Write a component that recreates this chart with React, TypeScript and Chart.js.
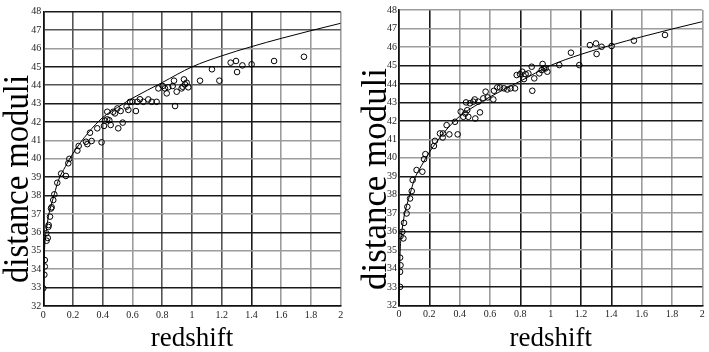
import React, { useEffect, useRef } from "react";
import { Chart, registerables } from "chart.js";

Chart.register(...registerables);

// Model curve
const modelZ = [0, 0.003, 0.007, 0.012, 0.02, 0.035, 0.05, 0.075, 0.1, 0.15, 0.2, 0.3, 0.4, 0.5, 0.6, 0.8, 1.0, 1.2, 1.4, 1.6, 1.8, 2.0];
const modelMu = [32, 33.5, 34.8, 35.6, 36.1, 36.9, 37.4, 38.1, 38.8, 39.6, 40.3, 41.4, 42.25, 42.8, 43.3, 44.15, 45.0, 45.6, 46.1, 46.55, 46.97, 47.37];

// Left panel observations
const leftZ = [0, 0.007, 0.01, 0.01, 0.022, 0.03, 0.02, 0.034, 0.036, 0.045, 0.052, 0.056, 0.067, 0.074, 0.094, 0.12, 0.152, 0.168, 0.175, 0.229, 0.238, 0.287, 0.296, 0.325, 0.314, 0.363, 0.392, 0.408, 0.415, 0.43, 0.444, 0.453, 0.43, 0.47, 0.482, 0.498, 0.504, 0.52, 0.534, 0.56, 0.572, 0.583, 0.6, 0.623, 0.632, 0.65, 0.673, 0.706, 0.729, 0.762, 0.774, 0.803, 0.818, 0.83, 0.84, 0.87, 0.879, 0.886, 0.897, 0.93, 0.937, 0.946, 0.953, 0.964, 0.975, 1.054, 1.134, 1.184, 1.26, 1.296, 1.303, 1.339, 1.401, 1.552, 1.753];
const leftMu = [32.96, 33.7, 34.15, 34.5, 35.55, 35.7, 35.95, 36.3, 36.4, 36.86, 37.3, 37.37, 37.76, 38.07, 38.7, 39.2, 39.07, 39.76, 40.0, 40.45, 40.7, 40.93, 40.8, 40.97, 41.42, 41.66, 40.9, 41.79, 42.08, 42.15, 42.1, 41.84, 42.56, 42.56, 42.47, 42.74, 41.66, 42.6, 41.97, 42.84, 42.66, 43.1, 43.1, 42.6, 43.1, 43.24, 43.1, 43.23, 43.1, 43.1, 43.83, 43.96, 43.83, 43.56, 43.89, 43.96, 44.25, 42.87, 43.65, 43.83, 43.92, 44.32, 44.05, 44.14, 43.89, 44.25, 44.87, 44.25, 45.23, 45.32, 44.72, 45.08, 45.14, 45.32, 45.55];

// Right panel observations
const rightZ = [0.007, 0.007, 0.01, 0.007, 0.01, 0.029, 0.022, 0.033, 0.05, 0.055, 0.073, 0.084, 0.09, 0.116, 0.154, 0.165, 0.174, 0.23, 0.237, 0.27, 0.288, 0.29, 0.314, 0.332, 0.369, 0.387, 0.407, 0.424, 0.437, 0.442, 0.45, 0.457, 0.468, 0.49, 0.499, 0.503, 0.523, 0.534, 0.556, 0.571, 0.585, 0.622, 0.626, 0.648, 0.666, 0.692, 0.714, 0.736, 0.765, 0.776, 0.798, 0.813, 0.824, 0.835, 0.853, 0.875, 0.879, 0.892, 0.925, 0.941, 0.947, 0.956, 0.967, 0.978, 1.057, 1.134, 1.189, 1.259, 1.299, 1.303, 1.336, 1.402, 1.549, 1.754];
const rightMu = [33.02, 33.83, 34.19, 34.6, 35.76, 35.64, 36.0, 36.48, 36.99, 37.35, 37.8, 38.2, 38.8, 39.34, 39.25, 39.93, 40.2, 40.64, 40.92, 41.32, 41.1, 41.32, 41.77, 41.27, 41.95, 41.27, 42.5, 42.22, 42.4, 43.0, 42.58, 42.22, 42.95, 43.04, 43.16, 42.13, 43.04, 42.46, 43.22, 43.58, 43.27, 43.16, 43.63, 43.81, 43.81, 43.76, 43.7, 43.76, 43.76, 44.48, 44.53, 44.66, 44.26, 44.53, 44.57, 44.93, 43.63, 44.3, 44.57, 44.75, 45.08, 44.84, 44.84, 44.66, 45.02, 45.69, 45.02, 46.1, 46.19, 45.62, 46.01, 46.05, 46.34, 46.65];

const xTitle = "redshift";
const yTitle = "distance moduli";

// Grid line shades (style only)
const SHADE: Record<string, string> = { d: "#1a1a1a", m: "#555555", l: "#9c9c9c" };
const leftYShade = "ddlldldd lldd mdlmd".replace(/ /g, "").split("");
const rightYShade = "ddlldldd lldd ddlll".replace(/ /g, "").split("");
const leftXShade = "dmmlmmmdlll".split("");
const rightXShade = "ddlldlddlll".split("");

const FONT = '"Liberation Serif", "DejaVu Serif", serif';

const yTitlePlugin = {
  id: "yTitleDraw",
  afterDraw(chart: any, _args: any, opts: any) {
    const ctx = chart.ctx;
    ctx.save();
    ctx.translate(opts.x, opts.y);
    ctx.rotate(-Math.PI / 2);
    ctx.font = `${opts.size}px ${FONT}`;
    ctx.fillStyle = "#000";
    ctx.textAlign = "center";
    ctx.textBaseline = "alphabetic";
    ctx.fillText(opts.text, 0, 0, opts.maxWidth);
    ctx.restore();
  },
};

type PanelProps = {
  z: number[];
  mu: number[];
  left: number;
  width: number;
  pad: { left: number; top: number; right: number; bottom: number };
  yW: number;
  xH: number;
  yShade: string[];
  xShade: string[];
  title: { x: number; y: number; size: number; maxWidth: number };
};

function Panel(p: PanelProps) {
  const ref = useRef<HTMLCanvasElement>(null);
  useEffect(() => {
    const fmt = (v: any) => String(Math.round(Number(v) * 10) / 10);
    const chart = new Chart(ref.current as HTMLCanvasElement, {
      type: "scatter",
      data: {
        datasets: [
          {
            data: p.z.map((z, i) => ({ x: z, y: p.mu[i] })),
            showLine: false,
            pointStyle: "circle",
            pointRadius: 2.8,
            pointBorderWidth: 1,
            pointBorderColor: "#000",
            pointBackgroundColor: "rgba(0,0,0,0)",
            borderColor: "#000",
            backgroundColor: "rgba(0,0,0,0)",
          },
          {
            data: modelZ.map((z, i) => ({ x: z, y: modelMu[i] })),
            showLine: true,
            pointRadius: 0,
            borderColor: "#000",
            borderWidth: 1,
            cubicInterpolationMode: "monotone",
          } as any,
        ],
      },
      options: {
        animation: false,
        responsive: false,
        devicePixelRatio: 1,
        layout: { padding: p.pad },
        plugins: {
          legend: { display: false },
          tooltip: { enabled: false },
          yTitleDraw: { text: yTitle, ...p.title },
        } as any,
        scales: {
          x: {
            type: "linear",
            min: 0,
            max: 2,
            afterFit: (s: any) => {
              s.height = p.xH;
            },
            ticks: {
              stepSize: 0.2,
              autoSkip: false,
              maxRotation: 0,
              padding: 3,
              color: "#222",
              font: { family: FONT, size: 10 },
              callback: fmt,
            },
            grid: {
              drawTicks: false,
              lineWidth: 1.6,
              color: (c: any) => SHADE[p.xShade[c.index]] || SHADE.l,
            },
            border: { color: "#111", width: 1.6 },
            title: {
              display: true,
              text: xTitle,
              color: "#000",
              font: { family: FONT, size: 27, lineHeight: 1 },
              padding: { top: 0, bottom: 0 },
            },
          },
          y: {
            type: "linear",
            min: 32,
            max: 48,
            afterFit: (s: any) => {
              s.width = p.yW;
            },
            ticks: {
              stepSize: 1,
              padding: 2,
              color: "#222",
              font: { family: FONT, size: 10 },
            },
            grid: {
              drawTicks: false,
              lineWidth: 1.6,
              color: (c: any) => SHADE[p.yShade[c.index]] || SHADE.l,
            },
            border: { color: "#111", width: 1.6 },
          },
        },
      },
      plugins: [yTitlePlugin as any],
    });
    return () => chart.destroy();
  }, []);
  return (
    <canvas
      ref={ref}
      width={p.width}
      height={352}
      style={{ position: "absolute", left: p.left, top: 0, width: p.width, height: 352 }}
    />
  );
}

export default function App() {
  return (
    <div style={{ position: "fixed", left: 0, top: 0, width: 709, height: 352, background: "#fff" }}>
      <Panel
        z={leftZ}
        mu={leftMu}
        left={0}
        width={355}
        pad={{ left: 0, top: 11.7, right: 14.3, bottom: 0 }}
        yW={43.3}
        xH={46}
        yShade={leftYShade}
        xShade={leftXShade}
        title={{ x: 28, y: 179, size: 36, maxWidth: 208 }}
      />
      <Panel
        z={rightZ}
        mu={rightMu}
        left={355}
        width={354}
        pad={{ left: 0, top: 10, right: 6.7, bottom: 0 }}
        yW={44}
        xH={46.3}
        yShade={rightYShade}
        xShade={rightXShade}
        title={{ x: 31, y: 179, size: 36, maxWidth: 222 }}
      />
    </div>
  );
}
